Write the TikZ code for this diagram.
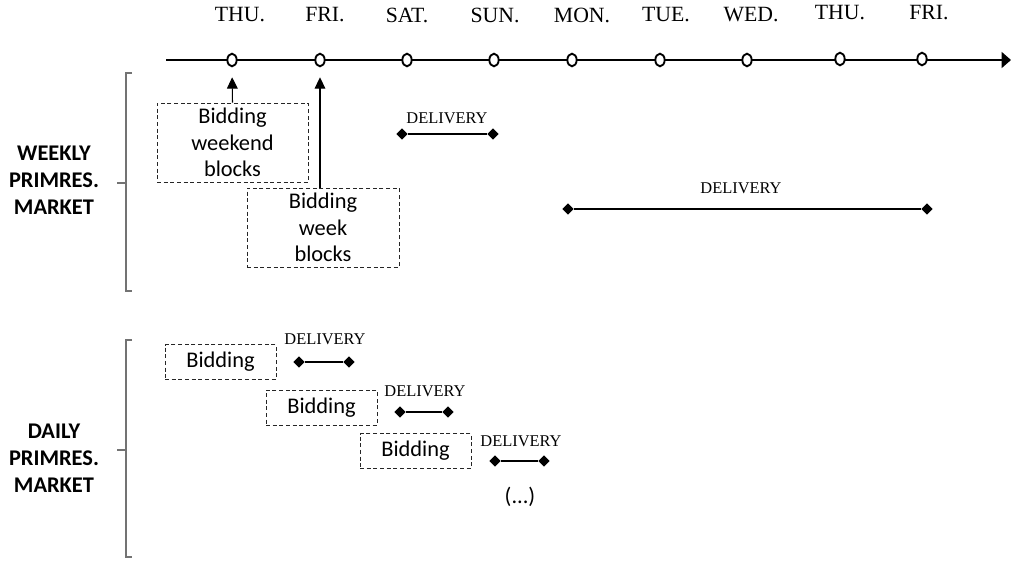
\documentclass[tikz,border=0pt]{standalone}
\usepackage{fontspec}
\setmainfont{Liberation Serif}
\newfontfamily\calfont{Carlito}
\usetikzlibrary{arrows.meta,shapes.geometric}
\begin{document}
\begin{tikzpicture}[x=0.75pt,y=-0.75pt,
 day/.style={font=\fontsize{16.3}{19}\selectfont, inner sep=0pt},
 tickmark/.style={ellipse, draw, fill=white, line width=1.4pt, minimum width=7pt, minimum height=9.5pt, inner sep=0pt},
 bidbox/.style={draw=black!85, dash pattern=on 3pt off 2pt, line width=0.7pt, font=\calfont\fontsize{16.8}{19.9}\selectfont, align=center, inner sep=0pt},
 deliv/.style={font=\fontsize{12.3}{14}\selectfont, inner sep=0pt},
 dia/.style={diamond, fill=black, minimum width=8.5pt, minimum height=8.5pt, inner sep=0pt},
 market/.style={font=\calfont\bfseries\fontsize{16.8}{20.25}\selectfont, align=center, inner sep=0pt},
 brk/.style={draw=black!55, line width=1pt},
 up/.style={-{Triangle[length=8.5pt,width=8pt]}, line width=0.8pt, shorten >=7.5pt}
]
\useasboundingbox (0,0) rectangle (1011,561);

% timeline
\coordinate (tl0) at (166,60);
\coordinate (tl1) at (1011,60);
\draw[line width=1pt, -{Triangle[length=7pt,width=12pt]}] (tl0) -- (tl1);

\node[tickmark] (thu1) at (232,60) {};
\node[tickmark] (fri1) at (320,60) {};
\node[tickmark] (sat)  at (407,60) {};
\node[tickmark] (sun)  at (494,60) {};
\node[tickmark] (mon)  at (572,60) {};
\node[tickmark] (tue)  at (660,60) {};
\node[tickmark] (wed)  at (747,60) {};
\node[tickmark] (thu2) at (840,59) {};
\node[tickmark] (fri2) at (922,59) {};

\node[day] (lthu1) at (240,15) {THU.};
\node[day] (lfri1) at (325,15) {FRI.};
\node[day] (lsat)  at (407,15) {SAT.};
\node[day] (lsun)  at (495,15) {SUN.};
\node[day] (lmon)  at (582,15) {MON.};
\node[day] (ltue)  at (666,15) {TUE.};
\node[day] (lwed)  at (751,15) {WED.};
\node[day] (lthu2) at (840,13) {THU.};
\node[day] (lfri2) at (929,13) {FRI.};

% weekly market
\node[market] (weekly) at (54,180) {WEEKLY\\PRIMRES.\\MARKET};
\draw[brk] (132,73) -- (126,73) -- (126,291) -- (132,291);
\draw[brk] (117,183) -- (126,183);

\node[bidbox, minimum width=113.25pt, minimum height=59.25pt] (b1) at (232.5,142.5) {Bidding\\weekend\\blocks};
\node[bidbox, minimum width=114pt, minimum height=59.25pt] (b2) at (323,227.5) {Bidding\\week\\blocks};
\draw[up] (b1.north) -- (thu1.south);
\draw[up] (b2.north -| fri1) -- (fri1.south);

\node[deliv] (wd1) at (447,118) {DELIVERY};
\node[dia] (wd1a) at (402,134) {};
\node[dia] (wd1b) at (493,134) {};
\draw[line width=0.8pt] (wd1a) -- (wd1b);

\node[deliv] (wd2) at (741,188) {DELIVERY};
\node[dia] (wd2a) at (568,209) {};
\node[dia] (wd2b) at (927,209) {};
\draw[line width=0.8pt] (wd2a) -- (wd2b);

% daily market
\node[market] (daily) at (54,458) {DAILY\\PRIMRES.\\MARKET};
\draw[brk] (132,340) -- (126,340) -- (126,557) -- (132,557);
\draw[brk] (117,450) -- (126,450);

\node[bidbox, minimum width=83.25pt, minimum height=26.25pt] (d1) at (220.5,362) {Bidding};
\node[bidbox, minimum width=83.25pt, minimum height=26.25pt] (d2) at (321.5,407.5) {Bidding};
\node[bidbox, minimum width=83.25pt, minimum height=26.25pt] (d3) at (415.5,451) {Bidding};

\node[deliv] (dd1) at (325,339) {DELIVERY};
\node[dia] (dd1a) at (299,362) {};
\node[dia] (dd1b) at (349,362) {};
\draw[line width=0.8pt] (dd1a) -- (dd1b);

\node[deliv] (dd2) at (425,391) {DELIVERY};
\node[dia] (dd2a) at (400,412) {};
\node[dia] (dd2b) at (448,412) {};
\draw[line width=0.8pt] (dd2a) -- (dd2b);

\node[deliv] (dd3) at (521,441) {DELIVERY};
\node[dia] (dd3a) at (495,461) {};
\node[dia] (dd3b) at (544,461) {};
\draw[line width=0.8pt] (dd3a) -- (dd3b);

\node[font=\calfont\fontsize{16.8}{20}\selectfont, inner sep=0pt] (more) at (520,497) {(...)};
\end{tikzpicture}
\end{document}
